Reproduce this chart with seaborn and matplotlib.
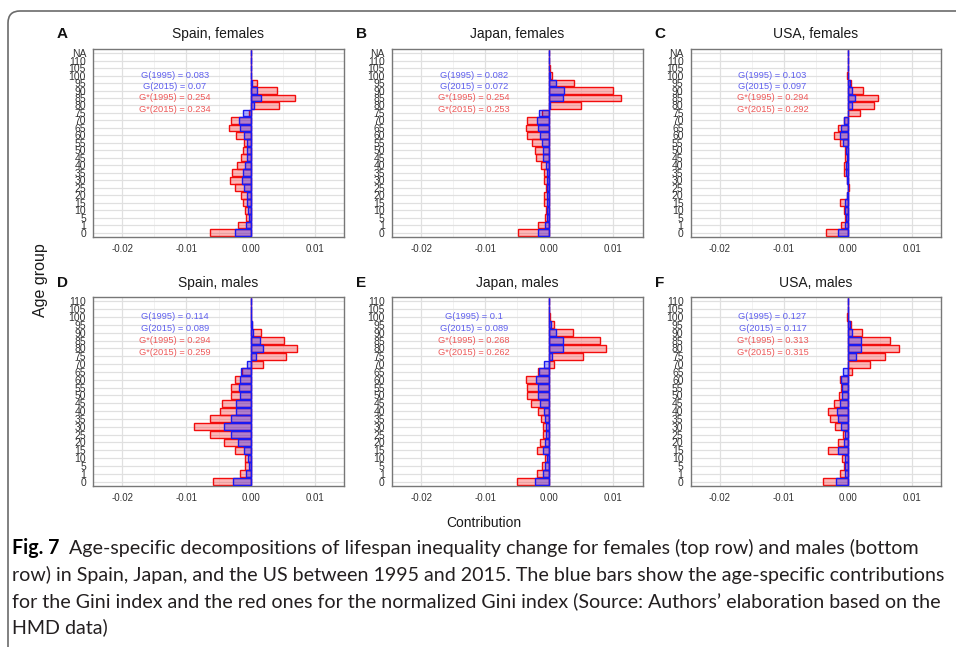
import numpy as np
import pandas as pd
import matplotlib
matplotlib.use("Agg")
import matplotlib.pyplot as plt
import seaborn as sns
from matplotlib import font_manager
from matplotlib.patches import FancyBboxPatch

# ---------------- data ----------------
ages_m = ['0', '1', '5', '10', '15', '20', '25', '30', '35', '40', '45', '50', '55',
          '60', '65', '70', '75', '80', '85', '90', '95', '100', '105', '110']
ages_f = ages_m + ['NA']

# females (ages 0 ... 110, NA)
spain_f_G     = [-0.0024, -0.0007, -0.0003, -0.0004, -0.0005, -0.0006, -0.0010, -0.0013, -0.0011, -0.0008,
                 -0.0006, -0.0005, -0.0006, -0.0010, -0.0017, -0.0018, -0.0012, 0.0005, 0.0016, 0.0010,
                 0.0003, 0.0001, 0.0, 0.0, 0.0]
spain_f_Gstar = [-0.0063, -0.0019, -0.0007, -0.0008, -0.0011, -0.0015, -0.0024, -0.0032, -0.0029, -0.0021,
                 -0.0015, -0.0012, -0.0010, -0.0023, -0.0034, -0.0030, -0.0003, 0.0044, 0.0069, 0.0041,
                 0.0010, 0.0001, 0.0, 0.0, 0.0]
japan_f_G     = [-0.0017, -0.0007, -0.0003, -0.0003, -0.0004, -0.0004, -0.0003, -0.0003, -0.0004, -0.0005,
                 -0.0009, -0.0009, -0.0012, -0.0015, -0.0017, -0.0019, -0.0016, 0.0001, 0.0021, 0.0023,
                 0.0010, 0.0002, 0.0, 0.0, 0.0]
japan_f_Gstar = [-0.0048, -0.0018, -0.0007, -0.0005, -0.0008, -0.0008, -0.0005, -0.0008, -0.0008, -0.0013,
                 -0.0021, -0.0022, -0.0027, -0.0034, -0.0037, -0.0034, -0.0012, 0.0050, 0.0112, 0.0100,
                 0.0038, 0.0005, 0.0001, 0.0, 0.0]
usa_f_G       = [-0.0015, -0.0005, -0.0003, -0.0004, -0.0005, -0.0001, 0.0, -0.0001, -0.0003, -0.0003,
                 -0.0002, -0.0003, -0.0008, -0.0013, -0.0011, -0.0007, 0.0, 0.0007, 0.0011, 0.0006,
                 0.0003, 0.0, 0.0, 0.0, 0.0]
usa_f_Gstar   = [-0.0034, -0.0011, -0.0005, -0.0006, -0.0012, -0.0002, 0.0001, -0.0002, -0.0006, -0.0006,
                 -0.0004, -0.0004, -0.0013, -0.0022, -0.0015, -0.0006, 0.0018, 0.0040, 0.0047, 0.0023,
                 0.0005, -0.0001, 0.0, 0.0, 0.0]

# males (ages 0 ... 110)
spain_m_G     = [-0.0027, -0.0007, -0.0003, -0.0004, -0.0010, -0.0019, -0.0030, -0.0042, -0.0031, -0.0023,
                 -0.0022, -0.0016, -0.0018, -0.0017, -0.0015, -0.0005, 0.0009, 0.0019, 0.0015, 0.0004,
                 0.0002, 0.0, 0.0, 0.0]
spain_m_Gstar = [-0.0058, -0.0017, -0.0008, -0.0009, -0.0025, -0.0041, -0.0064, -0.0088, -0.0064, -0.0047,
                 -0.0044, -0.0031, -0.0030, -0.0024, -0.0014, 0.0020, 0.0055, 0.0073, 0.0052, 0.0016,
                 0.0003, 0.0, 0.0, 0.0]
japan_m_G     = [-0.0022, -0.0009, -0.0006, -0.0004, -0.0009, -0.0007, -0.0005, -0.0005, -0.0006, -0.0008,
                 -0.0014, -0.0017, -0.0018, -0.0021, -0.0016, -0.0008, 0.0005, 0.0021, 0.0022, 0.0011,
                 0.0003, 0.0, 0.0, 0.0]
japan_m_Gstar = [-0.0050, -0.0019, -0.0012, -0.0007, -0.0019, -0.0015, -0.0010, -0.0010, -0.0013, -0.0018,
                 -0.0028, -0.0034, -0.0035, -0.0037, -0.0018, 0.0008, 0.0053, 0.0089, 0.0079, 0.0037,
                 0.0008, 0.0001, 0.0, 0.0]
usa_m_G       = [-0.0019, -0.0005, -0.0004, -0.0005, -0.0016, -0.0007, -0.0005, -0.0011, -0.0016, -0.0017,
                 -0.0013, -0.0009, -0.0009, -0.0011, -0.0008, 0.0, 0.0012, 0.0021, 0.0020, 0.0006,
                 0.0003, 0.0, 0.0, 0.0]
usa_m_Gstar   = [-0.0039, -0.0012, -0.0007, -0.0009, -0.0031, -0.0015, -0.0008, -0.0020, -0.0028, -0.0031,
                 -0.0022, -0.0014, -0.0011, -0.0012, 0.0006, 0.0034, 0.0058, 0.0079, 0.0065, 0.0022,
                 0.0005, -0.0001, 0.0, 0.0]

panel_letters = ['A', 'B', 'C', 'D', 'E', 'F']
panel_titles = ['Spain, females', 'Japan, females', 'USA, females',
                'Spain, males', 'Japan, males', 'USA, males']
gini_labels = [
    ['G(1995) = 0.083', 'G(2015) = 0.07', 'G*(1995) = 0.254', 'G*(2015) = 0.234'],
    ['G(1995) = 0.082', 'G(2015) = 0.072', 'G*(1995) = 0.254', 'G*(2015) = 0.253'],
    ['G(1995) = 0.103', 'G(2015) = 0.097', 'G*(1995) = 0.294', 'G*(2015) = 0.292'],
    ['G(1995) = 0.114', 'G(2015) = 0.089', 'G*(1995) = 0.294', 'G*(2015) = 0.259'],
    ['G(1995) = 0.1', 'G(2015) = 0.089', 'G*(1995) = 0.268', 'G*(2015) = 0.262'],
    ['G(1995) = 0.127', 'G(2015) = 0.117', 'G*(1995) = 0.313', 'G*(2015) = 0.315'],
]
x_ticks = [-0.02, -0.01, 0.0, 0.01]
x_ticklabels = ['-0.02', '-0.01', '0.00', '0.01']

caption_bold = 'Fig. 7'
caption_lines = [
    'Age-specific decompositions of lifespan inequality change for females (top row) and males (bottom',
    'row) in Spain, Japan, and the US between 1995 and 2015. The blue bars show the age-specific contributions',
    'for the Gini index and the red ones for the normalized Gini index (Source: Authors\u2019 elaboration based on the',
    'HMD data)',
]

panels = [
    (ages_f, spain_f_G, spain_f_Gstar), (ages_f, japan_f_G, japan_f_Gstar), (ages_f, usa_f_G, usa_f_Gstar),
    (ages_m, spain_m_G, spain_m_Gstar), (ages_m, japan_m_G, japan_m_Gstar), (ages_m, usa_m_G, usa_m_Gstar),
]

# ---------------- style ----------------
sns.set_style("white")
plt.rcParams['font.family'] = ['Liberation Sans', 'DejaVu Sans']

W, H = 956, 647
fig = plt.figure(figsize=(W / 100, H / 100), dpi=100)

def fx(px):
    return px / W

def fy(py):
    return 1 - py / H

col_left = [93, 391.7, 690.5]
ax_w = 251
rows_tb = [(49, 236.7), (297, 486)]

RED_FILL = (1, 0, 0, 0.28)
RED_EDGE = (0.95, 0.05, 0.05, 1)
BLUE_FILL = (0, 0, 1, 0.30)
BLUE_EDGE = (0.1, 0.1, 0.95, 1)
GRID = '#E0E0E0'
TXT_BLUE = '#5F5FEE'
TXT_RED = '#EE5A5A'

for i, (ages, G, Gs) in enumerate(panels):
    r, c = divmod(i, 3)
    top, bot = rows_tb[r]
    ax = fig.add_axes([fx(col_left[c]), fy(bot), fx(ax_w), (bot - top) / H])
    df = pd.DataFrame({'age': ages, 'G': G, 'Gstar': Gs})
    order = ages[::-1]

    ax.axvline(0, color=(0.15, 0.15, 1.0, 0.9), lw=1.0, zorder=1.5)

    n0 = len(ax.patches)
    sns.barplot(data=df, x='Gstar', y='age', order=order, orient='h', ax=ax,
                color='red', saturation=1, width=0.9, errorbar=None)
    for p in ax.patches[n0:]:
        p.set_facecolor(RED_FILL)
        p.set_edgecolor(RED_EDGE)
        p.set_linewidth(1.0)
        p.set_zorder(2)
    n1 = len(ax.patches)
    sns.barplot(data=df, x='G', y='age', order=order, orient='h', ax=ax,
                color='blue', saturation=1, width=0.9, errorbar=None)
    for p in ax.patches[n1:]:
        p.set_facecolor(BLUE_FILL)
        p.set_edgecolor(BLUE_EDGE)
        p.set_linewidth(1.0)
        p.set_zorder(3)

    n = len(order)
    ax.set_ylim(n - 1 + 0.55, -0.55)
    ax.set_xlim(-0.0246, 0.0146)
    ax.set_xticks(x_ticks)
    ax.set_xticklabels(x_ticklabels)
    ax.set_xticks([-0.015, -0.005, 0.005], minor=True)
    ax.set_xlabel('')
    ax.set_ylabel('')
    ax.set_axisbelow(True)
    ax.grid(True, which='major', color=GRID, lw=0.9)
    ax.grid(True, which='minor', axis='x', color='#F0F0F0', lw=0.6)
    ax.tick_params(axis='both', which='major', direction='out', length=3, width=0.8,
                   color='#555555', labelcolor='#333333', pad=2)
    ax.tick_params(axis='x', which='major', labelsize=7)
    ax.tick_params(axis='y', which='major', labelsize=7.5)
    ax.tick_params(axis='x', which='minor', length=0)
    for s in ax.spines.values():
        s.set_visible(True)
        s.set_color('#777777')
        s.set_linewidth(1.0)

    base = order.index('100')
    cols = [TXT_BLUE, TXT_BLUE, TXT_RED, TXT_RED]
    for k, (lab, colr) in enumerate(zip(gini_labels[i], cols)):
        ax.text(-0.0118, base + 1.5 * k, lab, ha='center', va='center',
                color=colr, fontsize=6.7, zorder=5)

    title_y = 34 if r == 0 else 283
    fig.text(fx(col_left[c] + ax_w / 2), fy(title_y), panel_titles[i],
             ha='center', va='center', fontsize=10, color='#1a1a1a')
    fig.text(fx(col_left[c] - 36), fy(title_y), panel_letters[i],
             ha='left', va='center', fontsize=11, fontweight='bold', color='#111111')

fig.text(fx(41), fy(280), 'Age group', rotation=90, ha='center', va='center',
         fontsize=11.5, color='#1a1a1a')
fig.text(fx(484), fy(523), 'Contribution', ha='center', va='center',
         fontsize=10, color='#1a1a1a')

# ---------------- caption ----------------
names = {f.name for f in font_manager.fontManager.ttflist}
cap_font = 'Lato' if 'Lato' in names else 'Open Sans'
fig.canvas.draw()
renderer = fig.canvas.get_renderer()

probe = fig.text(0, 0, caption_lines[1], fontsize=10, family=[cap_font, 'DejaVu Sans'])
wprobe = probe.get_window_extent(renderer).width
probe.remove()
cap_size = 10 * (944 - 12) / wprobe

line_y = [548, 574.5, 601, 627]
tb = fig.text(fx(12), fy(line_y[0]), caption_bold, ha='left', va='center',
              fontsize=cap_size, fontweight='bold', family=[cap_font, 'DejaVu Sans'], color='#000000')
bw = tb.get_window_extent(renderer).width
fig.text(fx(12 + bw + 10), fy(line_y[0]), caption_lines[0], ha='left', va='center',
         fontsize=cap_size, family=[cap_font, 'DejaVu Sans'], color='#231f20')
for ly, txt in zip(line_y[1:], caption_lines[1:]):
    fig.text(fx(12), fy(ly), txt, ha='left', va='center',
             fontsize=cap_size, family=[cap_font, 'DejaVu Sans'], color='#231f20')

# frame
frame = FancyBboxPatch((0.08, -0.3), 9.56 + 0.5 - 0.08, 6.47 - 0.11 + 0.3,
                       boxstyle='round,pad=0,rounding_size=0.12',
                       transform=fig.dpi_scale_trans, fill=False,
                       edgecolor='#6b6b6b', linewidth=1.2)
fig.add_artist(frame)

fig.savefig('out.png', dpi=100)
